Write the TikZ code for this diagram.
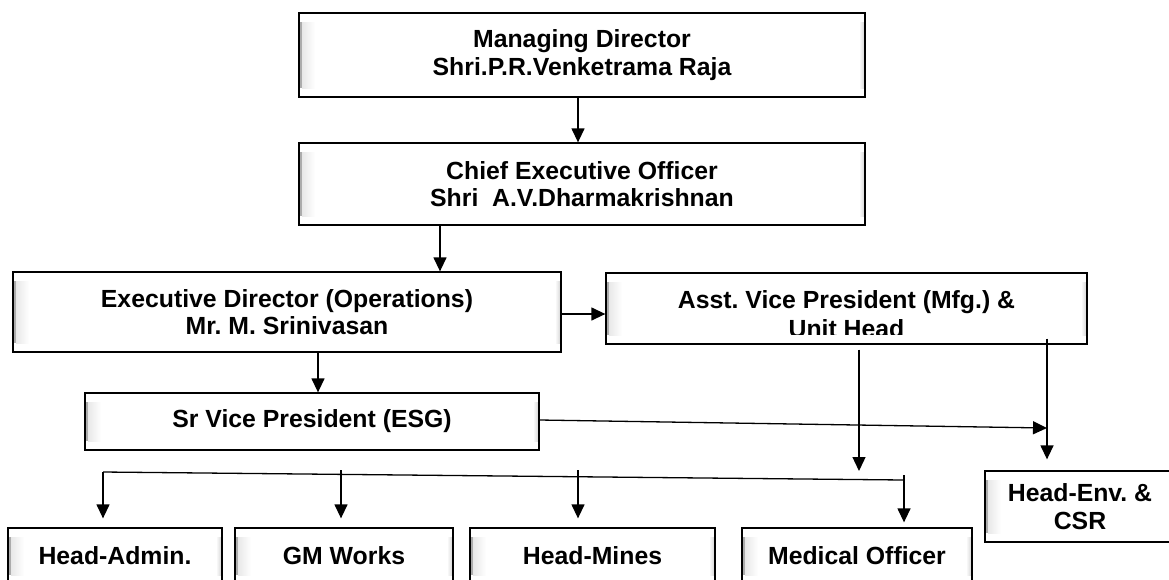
\documentclass[tikz,border=0pt]{standalone}
\usepackage{fontspec}
\setmainfont{Liberation Sans}
\usetikzlibrary{arrows.meta}
\frenchspacing

\begin{document}
\begin{tikzpicture}[
  x=1pt, y=-1pt,
  lbl/.style={align=center, inner sep=0pt, font=\fontsize{24.8}{27.5}\selectfont\bfseries},
  box/.style={lbl, draw=black, fill=white, line width=1.3pt,
    path picture={
      \fill[gray!65]
        ([xshift=1pt,yshift=-9pt]path picture bounding box.north west)
        rectangle ([xshift=3pt,yshift=9pt]path picture bounding box.south west);
      \path[left color=gray!18, right color=white]
        ([xshift=3pt,yshift=-9pt]path picture bounding box.north west)
        rectangle ([xshift=16pt,yshift=9pt]path picture bounding box.south west);
      \path[left color=white, right color=gray!30]
        ([xshift=-6pt,yshift=-9pt]path picture bounding box.north east)
        rectangle ([xshift=-1pt,yshift=9pt]path picture bounding box.south east);
    }},
  arr/.style={-{Triangle[width=13pt,length=14pt]}, line width=1.3pt},
  link/.style={line width=1.3pt}
]
  \useasboundingbox (0,0) rectangle (1169,579);
  \clip (0,0) rectangle (1169,579);

  % boxes
  \node[box, minimum width=566pt, minimum height=84pt] (md) at (582,55) {Managing Director\\Shri.P.R.Venketrama Raja};
  \node[box, minimum width=566pt, minimum height=82pt] (ceo) at (582,184) {Chief Executive Officer\\Shri\ \ A.V.Dharmakrishnan};
  \node[box, minimum width=548pt, minimum height=80pt] (ed) at (287,312) {Executive Director (Operations)\\Mr. M. Srinivasan};
  \node[box, minimum width=481pt, minimum height=71pt] (avp) at (846.5,308.5) {};
  \begin{scope}
    \clip (avp.north west) rectangle ([yshift=10pt]avp.south east);
    \node[lbl] (avptext) at ([yshift=-5.5pt]avp.center) {Asst. Vice President (Mfg.) \&\\[2pt]Unit Head};
  \end{scope}
  \node[box, minimum width=454pt, minimum height=57pt] (svp) at (312,421.5) {Sr Vice President (ESG)};
  \node[box, minimum width=190pt, minimum height=71pt] (env) at (1080,506.5) {Head-Env. \&\\CSR};

  \node[box, minimum width=214pt, minimum height=56pt] (admin) at (115,556) {Head-Admin.};
  \node[box, minimum width=218pt, minimum height=56pt] (gm) at (344,556) {GM Works};
  \node[box, minimum width=245pt, minimum height=56pt] (mines) at (592.5,556) {Head-Mines};
  \node[box, minimum width=230pt, minimum height=56pt] (med) at (857,556) {Medical Officer};

  % connectors
  \coordinate (envjoin) at (1047,428);
  \coordinate (medjoin) at (859,471);
  \coordinate (busL) at (103,472);
  \coordinate (busR) at (904,480);

  \draw[arr] ([xshift=-4pt]md.south) -- ([xshift=-4pt]ceo.north);
  \draw[arr] (ceo.south -| 440,0) -- (ed.north -| 440,0);
  \draw[arr] (ed.east |- 0,314) -- (avp.west |- 0,314);
  \draw[arr] (ed.south -| 318,0) -- (svp.north -| 318,0);
  \draw[arr] (svp.east |- 0,420) -- (envjoin);
  \draw[arr] ([yshift=6pt]avp.south -| envjoin) -- ([yshift=11pt]env.north -| envjoin);
  \draw[arr] ([yshift=-5pt]avp.south -| medjoin) -- (medjoin);

  \draw[link] (busL) -- (busR);
  \draw[arr] (busL) -- ([yshift=9pt]admin.north -| busL);
  \foreach \nd/\xx in {gm/341, mines/578}
    \draw[arr] (\xx,470) -- ([yshift=9pt]\nd.north -| \xx,0);
  \draw[arr] (busR |- 0,475) -- ([yshift=5pt]med.north -| busR);
\end{tikzpicture}
\end{document}
